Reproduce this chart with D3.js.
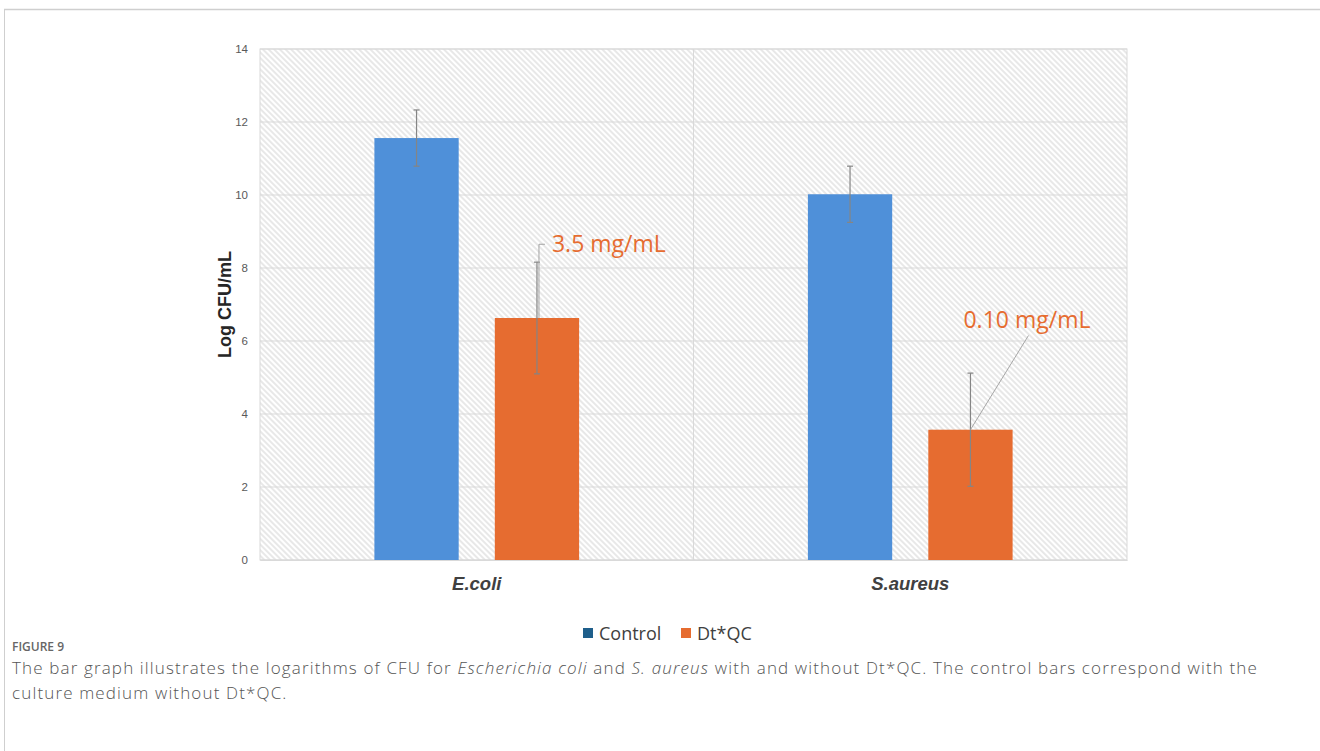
<!DOCTYPE html>
<html><head><meta charset="utf-8">
<script src="https://cdn.jsdelivr.net/npm/d3@7"></script>
<style>
body{margin:0;background:#fff;}
svg{display:block;}
</style></head>
<body>
<svg id="c" width="1320" height="751"></svg>
<script>
const categories = ["E.coli", "S.aureus"];
const seriesNames = ["Control", "Dt*QC"];
const controlValues = [11.56, 10.02];
const controlErrors = [0.77, 0.77];
const dtqcValues = [6.63, 3.57];
const dtqcErrors = [1.53, 1.55];
const annotations = ["3.5 mg/mL", "0.10 mg/mL"];
const yTicks = [0, 2, 4, 6, 8, 10, 12, 14];

const svg = d3.select("#c");
const W = 1320, H = 751;
const m = {l: 260, r: 1127, t: 49, b: 560};

// figure frame
svg.append("line").attr("x1",4).attr("x2",W).attr("y1",9.5).attr("y2",9.5).attr("stroke","#cfcfcf").attr("stroke-width",1.5);
svg.append("line").attr("x1",4.5).attr("x2",4.5).attr("y1",9).attr("y2",H).attr("stroke","#cfcfcf").attr("stroke-width",1);

const defs = svg.append("defs");
const pat = defs.append("pattern").attr("id","hatch").attr("patternUnits","userSpaceOnUse")
  .attr("width",4).attr("height",4).attr("patternTransform","rotate(45)");
pat.append("rect").attr("width",4).attr("height",4).attr("fill","#ffffff");
pat.append("line").attr("x1",0).attr("x2",4).attr("y1",1).attr("y2",1).attr("stroke","#dcdcdc").attr("stroke-width",1.3);

const x = d3.scaleBand().domain(categories).range([m.l, m.r]).paddingInner(0).paddingOuter(0);
const xs = d3.scaleBand().domain(seriesNames).range([0, x.bandwidth()]).paddingInner(0.3).paddingOuter(0.95);
const y = d3.scaleLinear().domain([0, 14]).range([m.b, m.t]);

svg.append("rect").attr("x",m.l).attr("y",m.t).attr("width",m.r-m.l).attr("height",m.b-m.t)
  .attr("fill","url(#hatch)").attr("stroke","#d9d9d9");

// grid
svg.append("g").selectAll("line").data(yTicks).join("line")
  .attr("x1",m.l).attr("x2",m.r).attr("y1",d=>y(d)).attr("y2",d=>y(d))
  .attr("stroke","#d9d9d9").attr("stroke-width",1);
svg.append("line").attr("x1",x(categories[1])).attr("x2",x(categories[1])).attr("y1",m.t).attr("y2",m.b)
  .attr("stroke","#d9d9d9");

// y axis
const yAxis = d3.axisLeft(y).tickValues(yTicks).tickSize(0).tickPadding(12);
const ga = svg.append("g").attr("transform",`translate(${m.l},0)`).call(yAxis);
ga.select(".domain").remove();
ga.selectAll("text").attr("font-family","Liberation Sans, Arial, sans-serif").attr("font-size",11.5).attr("fill","#595959");

// x axis labels
const xAxis = d3.axisBottom(x).tickSize(0).tickPadding(17);
const gx = svg.append("g").attr("transform",`translate(0,${m.b})`).call(xAxis);
gx.select(".domain").attr("stroke","#d9d9d9");
gx.selectAll("text").attr("font-family","Liberation Sans, Arial, sans-serif").attr("font-size",18.5)
  .attr("font-weight","bold").attr("font-style","italic").attr("fill","#404040");

const colors = {"Control":"#4f90d9","Dt*QC":"#e66c30"};
const data = [];
categories.forEach((c,i)=>{
  data.push({c, s:"Control", v:controlValues[i], e:controlErrors[i]});
  data.push({c, s:"Dt*QC", v:dtqcValues[i], e:dtqcErrors[i]});
});

svg.append("g").selectAll("rect").data(data).join("rect")
  .attr("x",d=>x(d.c)+xs(d.s)).attr("width",xs.bandwidth())
  .attr("y",d=>y(d.v)).attr("height",d=>y(0)-y(d.v)).attr("fill",d=>colors[d.s]);

// error bars
const eb = svg.append("g").attr("stroke","#858585").attr("stroke-width",1.2);
data.forEach(d=>{
  const cx = x(d.c)+xs(d.s)+xs.bandwidth()/2;
  eb.append("line").attr("x1",cx).attr("x2",cx).attr("y1",y(d.v+d.e)).attr("y2",y(d.v-d.e));
  eb.append("line").attr("x1",cx-3).attr("x2",cx+3).attr("y1",y(d.v+d.e)).attr("y2",y(d.v+d.e));
  eb.append("line").attr("x1",cx-3).attr("x2",cx+3).attr("y1",y(d.v-d.e)).attr("y2",y(d.v-d.e));
});

// annotations
const dq = data.filter(d=>d.s==="Dt*QC");
const ac = "#e66c30";
{
  const d = dq[0];
  const cx = x(d.c)+xs(d.s)+xs.bandwidth()/2;
  const ly = y(8.65);
  svg.append("polyline").attr("points",`${cx+2},${y(d.v)} ${cx+2},${ly} ${cx+8},${ly}`)
    .attr("fill","none").attr("stroke","#a6a6a6").attr("stroke-width",1);
  svg.append("text").attr("x",cx+15).attr("y",ly+8).text(annotations[0])
    .attr("font-family","Open Sans, sans-serif").attr("font-size",23).attr("fill",ac);
}
{
  const d = dq[1];
  const cx = x(d.c)+xs(d.s)+xs.bandwidth()/2;
  const lx = cx+58, ly = y(6.15);
  svg.append("line").attr("x1",cx).attr("y1",y(d.v)).attr("x2",lx).attr("y2",ly)
    .attr("stroke","#a6a6a6").attr("stroke-width",1);
  svg.append("text").attr("x",lx-65).attr("y",ly-8).text(annotations[1])
    .attr("font-family","Open Sans, sans-serif").attr("font-size",23).attr("fill",ac);
}

// y title
svg.append("text").attr("transform",`translate(231,${(m.t+m.b)/2}) rotate(-90)`)
  .attr("text-anchor","middle").text("Log CFU/mL")
  .attr("font-family","Liberation Sans, Arial, sans-serif").attr("font-size",18).attr("font-weight","bold").attr("fill","#262626");

// legend
const legColors = ["#1f5f8b","#e66c30"];
const lg = svg.append("g");
const lx0 = [583, 681];
seriesNames.forEach((s,i)=>{
  lg.append("rect").attr("x",lx0[i]).attr("y",628).attr("width",10).attr("height",10).attr("fill",legColors[i]);
  lg.append("text").attr("x",lx0[i]+16).attr("y",640).text(s)
    .attr("font-family","Open Sans, sans-serif").attr("font-size",18).attr("fill","#404040");
});

// caption
svg.append("text").attr("x",12).attr("y",651).text("FIGURE 9")
  .attr("font-family","Open Sans, sans-serif").attr("font-size",12).attr("font-weight",600).attr("fill","#666");
const capFont = "Open Sans, sans-serif";
const cap = svg.append("text").attr("x",12).attr("y",674)
  .attr("font-family",capFont).attr("font-size",17).attr("fill","#555").attr("font-weight",300);
cap.append("tspan").text("The bar graph illustrates the logarithms of CFU for ");
cap.append("tspan").attr("font-style","italic").text("Escherichia coli");
cap.append("tspan").text(" and ");
cap.append("tspan").attr("font-style","italic").text("S. aureus");
cap.append("tspan").text(" with and without Dt*QC. The control bars correspond with the");
const cap2 = svg.append("text").attr("x",12).attr("y",699).text("culture medium without Dt*QC.")
  .attr("font-family",capFont).attr("font-size",17).attr("fill","#555").attr("font-weight",300);
// widen spacing to match reference line width
const natural = cap.node().getComputedTextLength();
const nchars = cap.text().length;
const ls = Math.max(0, (1246 - natural) / nchars);
cap.attr("letter-spacing", ls);
cap2.attr("letter-spacing", ls);
</script>
</body></html>
